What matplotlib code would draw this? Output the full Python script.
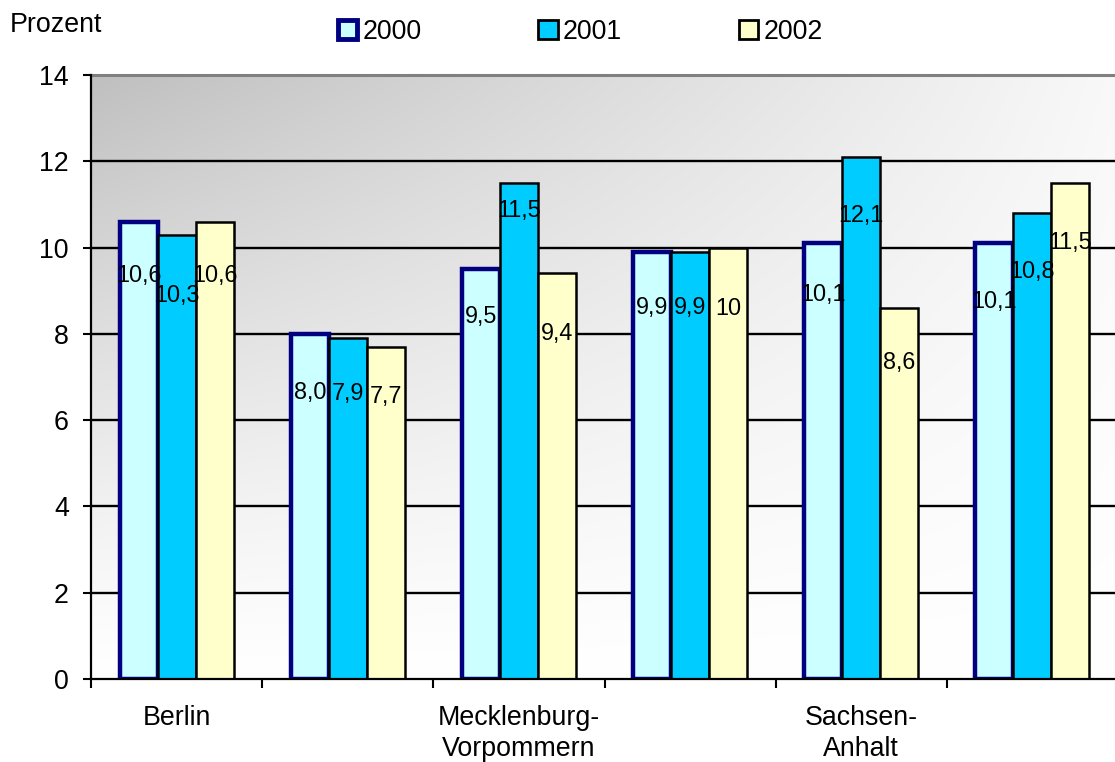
import matplotlib.pyplot as plt
from matplotlib.patches import Patch
import numpy as np

plt.rcParams['font.family'] = ['Liberation Sans', 'DejaVu Sans']

# Arbeitslosenquote nach Land, Prozent
laender = ['Berlin', 'Brandenburg', 'Mecklenburg-\nVorpommern', 'Sachsen',
           'Sachsen-\nAnhalt', 'Thüringen']
jahre = ['2000', '2001', '2002']
werte_2000 = [10.6, 8.0, 9.5, 9.9, 10.1, 10.1]
werte_2001 = [10.3, 7.9, 11.5, 9.9, 12.1, 10.8]
werte_2002 = [10.6, 7.7, 9.4, 10.0, 8.6, 11.5]
beschriftung = [
    ['10,6', '8,0', '9,5', '9,9', '10,1', '10,1'],
    ['10,3', '7,9', '11,5', '9,9', '12,1', '10,8'],
    ['10,6', '7,7', '9,4', '10', '8,6', '11,5'],
]

# how far each value label sits below its bar top (points)
label_drop = [
    [39, 42, 34, 40, 37, 42],
    [44, 40, 20, 40, 42, 42],
    [39, 36, 43, 44, 39, 43],
]

fills = ['#ccffff', '#00ccff', '#ffffcc']
edges = ['#000080', 'black', 'black']
edge_w = [3.2, 1.8, 1.8]
fs = 19.3

fig = plt.figure(figsize=(11.15, 7.62), dpi=100)
ax = fig.add_axes([91 / 1115, 83 / 762, 1027 / 1115, 604 / 762])

# grey wash from the upper left corner fading to white
ny, nx = 200, 300
ty = np.linspace(1, 0, ny)[:, None]
tx = np.linspace(0, 1, nx)[None, :]
shade = 1 - 0.25 * ty ** 1.2 * (1 - 0.9 * tx)
ax.imshow(np.dstack([shade] * 3), extent=[-0.5, 5.5, 0, 14], aspect='auto',
          origin='upper', zorder=0, interpolation='bicubic')

ax.hlines(np.arange(2, 13, 2), -0.5, 5.5, colors='black', lw=1.7, zorder=1)

x = np.arange(len(laender))
w = 0.222
serien = [werte_2000, werte_2001, werte_2002]
for i, vals in enumerate(serien):
    pos = x + (i - 1) * w
    ax.bar(pos, vals, width=w, color=fills[i], edgecolor=edges[i],
           linewidth=edge_w[i], zorder=2)
    for xp, v, txt, d in zip(pos, vals, beschriftung[i], label_drop[i]):
        ax.annotate(txt, (xp, v), xytext=(0, -d), textcoords='offset points',
                    ha='center', va='center', fontsize=16.8, zorder=5)

ax.set_xlim(-0.5, 5.5)
ax.set_ylim(0, 14)

ax.set_yticks(np.arange(0, 15, 2))
ax.tick_params(axis='y', direction='out', length=6, width=1.5, pad=10,
               labelsize=fs)

ax.set_xticks(np.arange(-0.5, 6, 1))
ax.set_xticklabels([])
ax.tick_params(axis='x', which='major', direction='out', length=6.5, width=1.5)
ax.set_xticks([0, 2, 4], minor=True)
ax.set_xticklabels([laender[0], laender[2], laender[4]], minor=True,
                   fontsize=fs, linespacing=1.22)
ax.tick_params(axis='x', which='minor', length=0, pad=19)

for s in ['left', 'bottom']:
    ax.spines[s].set_linewidth(1.6)
    ax.spines[s].set_zorder(3)
ax.spines['top'].set_color('#808080')
ax.spines['top'].set_linewidth(2.2)
ax.spines['right'].set_visible(False)

fig.text(10 / 1115, 1 - 25 / 762, 'Prozent', fontsize=fs, va='center')

handles = [Patch(facecolor=fills[i], edgecolor=edges[i],
                 linewidth=[3.5, 2, 2][i]) for i in range(3)]
fig.legend(handles, jahre, loc='center left',
           bbox_to_anchor=(338 / 1115, 1 - 32 / 762), ncol=3, frameon=False,
           fontsize=fs, handlelength=0.72, handleheight=0.72,
           handletextpad=0.2, columnspacing=4.35, borderpad=0,
           borderaxespad=0)

fig.savefig('out.png', dpi=100)
